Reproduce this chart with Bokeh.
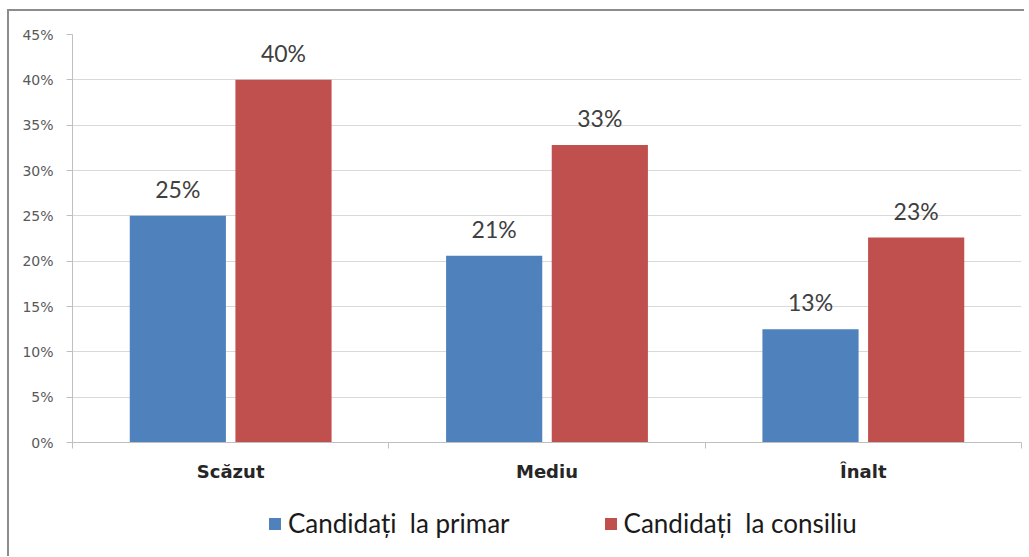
from bokeh.plotting import figure
from bokeh.layouts import column
from bokeh.models import (Legend, LegendItem, FixedTicker, CustomJSTickFormatter, Range1d)
from bokeh.core.properties import value
from bokeh.embed import file_html
from bokeh.resources import INLINE

categories = ["Scăzut", "Mediu", "Înalt"]
series_names = ["Candidați  la primar", "Candidați  la consiliu"]
primar = [25.0, 20.6, 12.5]
consiliu = [40.0, 32.8, 22.6]
primar_labels = ["25%", "21%", "13%"]
consiliu_labels = ["40%", "33%", "23%"]
y_ticks = [0, 5, 10, 15, 20, 25, 30, 35, 40, 45]

BLUE = "#4F81BD"
RED = "#C0504D"

p = figure(width=1015, height=484, output_backend="svg", toolbar_location=None,
           x_range=Range1d(0, 3), y_range=Range1d(0, 45),
           min_border_left=63, min_border_right=3, min_border_top=23,
           min_border_bottom=53)
p.outline_line_color = None
p.background_fill_color = "white"
p.border_fill_color = "white"

xs = [i + 0.5 for i in range(len(categories))]
x_b = [x - 0.167 for x in xs]
x_r = [x + 0.167 for x in xs]

p.vbar(x=x_b, top=primar, width=0.304, bottom=0, fill_color=BLUE, line_color=None)
p.vbar(x=x_r, top=consiliu, width=0.304, bottom=0, fill_color=RED, line_color=None)

p.text(x=x_b, y=primar, text=primar_labels, text_align="center", text_baseline="alphabetic",
       y_offset=-27, text_font=value("Lato"), text_font_size="23px", text_color="#404040")
p.text(x=x_r, y=consiliu, text=consiliu_labels, text_align="center", text_baseline="alphabetic",
       y_offset=-27, text_font=value("Lato"), text_font_size="23px", text_color="#404040")

# y axis
p.yaxis.ticker = FixedTicker(ticks=y_ticks)
p.yaxis.formatter = CustomJSTickFormatter(code="return tick + '%';")
p.yaxis.axis_line_color = "#bfbfbf"
p.yaxis.major_tick_line_color = "#bfbfbf"
p.yaxis.major_tick_out = 6
p.yaxis.major_tick_in = 0
p.yaxis.minor_tick_line_color = None
p.yaxis.major_label_text_font = "DejaVu Sans"
p.yaxis.major_label_text_font_size = "14px"
p.yaxis.major_label_text_color = "#595959"
p.yaxis.major_label_standoff = 13

# x axis: labels at category centres, minor ticks at category boundaries
p.xaxis.ticker = FixedTicker(ticks=xs, minor_ticks=[0, 1, 2, 3])
p.xaxis.major_label_overrides = {x: c for x, c in zip(xs, categories)}
p.xaxis.major_label_text_font = "DejaVu Sans"
p.xaxis.major_label_text_font_size = "18px"
p.xaxis.major_label_text_font_style = "bold"
p.xaxis.major_label_text_color = "#262626"
p.xaxis.major_label_standoff = 12
p.xaxis.axis_line_color = "#bfbfbf"
p.xaxis.major_tick_line_color = None
p.xaxis.minor_tick_line_color = "#bfbfbf"
p.xaxis.minor_tick_out = 6
p.xaxis.minor_tick_in = 0

p.xgrid.grid_line_color = None
p.ygrid.grid_line_color = "#d9d9d9"
p.ygrid.grid_line_width = 1

# legend strip below the chart (bars drawn out of its view, only the legend shows)
q = figure(width=1015, height=61, output_backend="svg", toolbar_location=None,
           x_range=Range1d(0, 3), y_range=Range1d(100, 101),
           x_axis_location=None, y_axis_location=None,
           min_border_left=0, min_border_right=0, min_border_top=0, min_border_bottom=0)
q.outline_line_color = None
q.xgrid.grid_line_color = None
q.ygrid.grid_line_color = None
q.border_fill_color = "white"
lb = q.vbar(x=x_b, top=primar, width=0.304, fill_color=BLUE, line_color=None)
lr = q.vbar(x=x_r, top=consiliu, width=0.304, fill_color=RED, line_color=None)

legend = Legend(items=[LegendItem(label=series_names[0], renderers=[lb]),
                       LegendItem(label=series_names[1], renderers=[lr])],
                orientation="horizontal", location=(195, 17),
                glyph_width=15, glyph_height=15, label_standoff=6, spacing=93,
                padding=0, margin=0, border_line_color=None, background_fill_alpha=0,
                label_text_font="Lato", label_text_font_size="26px",
                label_text_color="#1a1a1a")
q.add_layout(legend, "center")

layout = column(p, q, spacing=0,
                styles={"margin-left": "7px", "margin-top": "9px",
                        "border-left": "2px solid #8c8c8c", "border-top": "2px solid #8c8c8c"})

open("out.html", "w").write(file_html(layout, INLINE))
